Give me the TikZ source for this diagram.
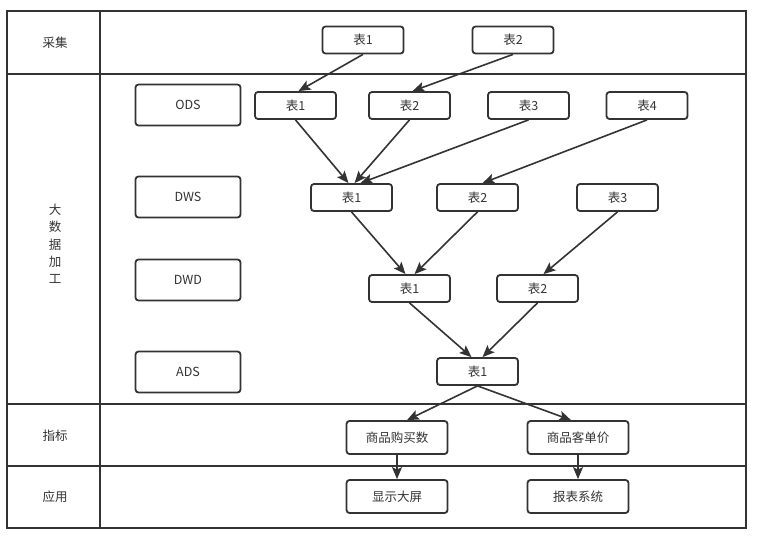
\documentclass[tikz,border=0pt]{standalone}
\usepackage{fontspec}
\setmainfont{Noto Sans CJK SC}
\usetikzlibrary{arrows.meta,calc}
\definecolor{ln}{HTML}{333333}
\begin{document}
\begin{tikzpicture}[x=1pt,y=-1pt,
  box/.style={draw=ln, line width=1.8pt, rounded corners=3pt, minimum width=81pt, minimum height=27pt, inner sep=0pt, text=ln, font=\fontsize{12.5}{14}\selectfont},
  layer/.style={box, minimum width=105pt, minimum height=41pt},
  big/.style={box, minimum width=101pt, minimum height=33pt},
  lbl/.style={text=ln, font=\fontsize{12.5}{14}\selectfont, inner sep=0pt},
  conn/.style={draw=ln, line width=1.6pt, -{Stealth[length=12pt,width=10pt,inset=2.5pt]}},
  grid/.style={draw=ln, line width=2pt}]
\useasboundingbox (0,0) rectangle (767,538);
% table
\draw[grid] (7,11) rectangle (746,528);
\draw[grid] (100,11) -- (100,528);
\draw[grid] (7,74) -- (746,74);
\draw[grid] (7,404) -- (746,404);
\draw[grid] (7,466) -- (746,466);
% row labels
\node[lbl] (rcj) at (55,43) {采集};
\node[lbl, align=center, font=\fontsize{12.5}{17.3}\selectfont] (rjg) at (55,244) {大\\数\\据\\加\\工};
\node[lbl] (rzb) at (55,436) {指标};
\node[lbl] (ryy) at (55,497) {应用};
% layer boxes
\node[layer] (ods) at (188,105) {ODS};
\node[layer] (dws) at (188,197) {DWS};
\node[layer] (dwd) at (188,280) {DWD};
\node[layer] (ads) at (188,372) {ADS};
% collection
\node[box] (c1) at (363,40) {表1};
\node[box] (c2) at (513,40) {表2};
% ODS
\node[box] (o1) at (295.5,105.5) {表1};
\node[box] (o2) at (409.5,105.5) {表2};
\node[box] (o3) at (528.5,105.5) {表3};
\node[box] (o4) at (647,105.5) {表4};
% DWS
\node[box] (s1) at (351.5,197.5) {表1};
\node[box] (s2) at (477.5,197.5) {表2};
\node[box] (s3) at (617.5,197.5) {表3};
% DWD
\node[box] (w1) at (409.5,288.5) {表1};
\node[box] (w2) at (537.5,288.5) {表2};
% ADS
\node[box] (a1) at (477.5,371.5) {表1};
% metrics
\node[big] (m1) at (397,437.5) {商品购买数};
\node[big] (m2) at (578,437.5) {商品客单价};
% applications
\node[big] (p1) at (397,496.5) {显示大屏};
\node[big] (p2) at (578,496.5) {报表系统};
% connectors
\draw[conn] (c1.south) -- ($(o1.north)+(3,0)$);
\draw[conn] (c2.south) -- ($(o2.north)+(3,0)$);
\draw[conn] (o1.south) -- ($(s1.north)+(-3,0)$);
\draw[conn] (o2.south) -- ($(s1.north)+(3,0)$);
\draw[conn] (o3.south) -- ($(s1.north)+(9,0)$);
\draw[conn] (o4.south) -- ($(s2.north)+(5,0)$);
\draw[conn] (s1.south) -- ($(w1.north)+(-4,0)$);
\draw[conn] (s2.south) -- ($(w1.north)+(5,0)$);
\draw[conn] (s3.south) -- ($(w2.north)+(6,0)$);
\draw[conn] (w1.south) -- ($(a1.north)+(-6,0)$);
\draw[conn] (w2.south) -- ($(a1.north)+(5,0)$);
\draw[conn] (a1.south) -- ($(m1.north)+(10,0)$);
\draw[conn] (a1.south) -- ($(m2.north)+(-7,0)$);
\draw[conn] (m1.south) -- (p1.north);
\draw[conn] (m2.south) -- (p2.north);
\end{tikzpicture}
\end{document}
